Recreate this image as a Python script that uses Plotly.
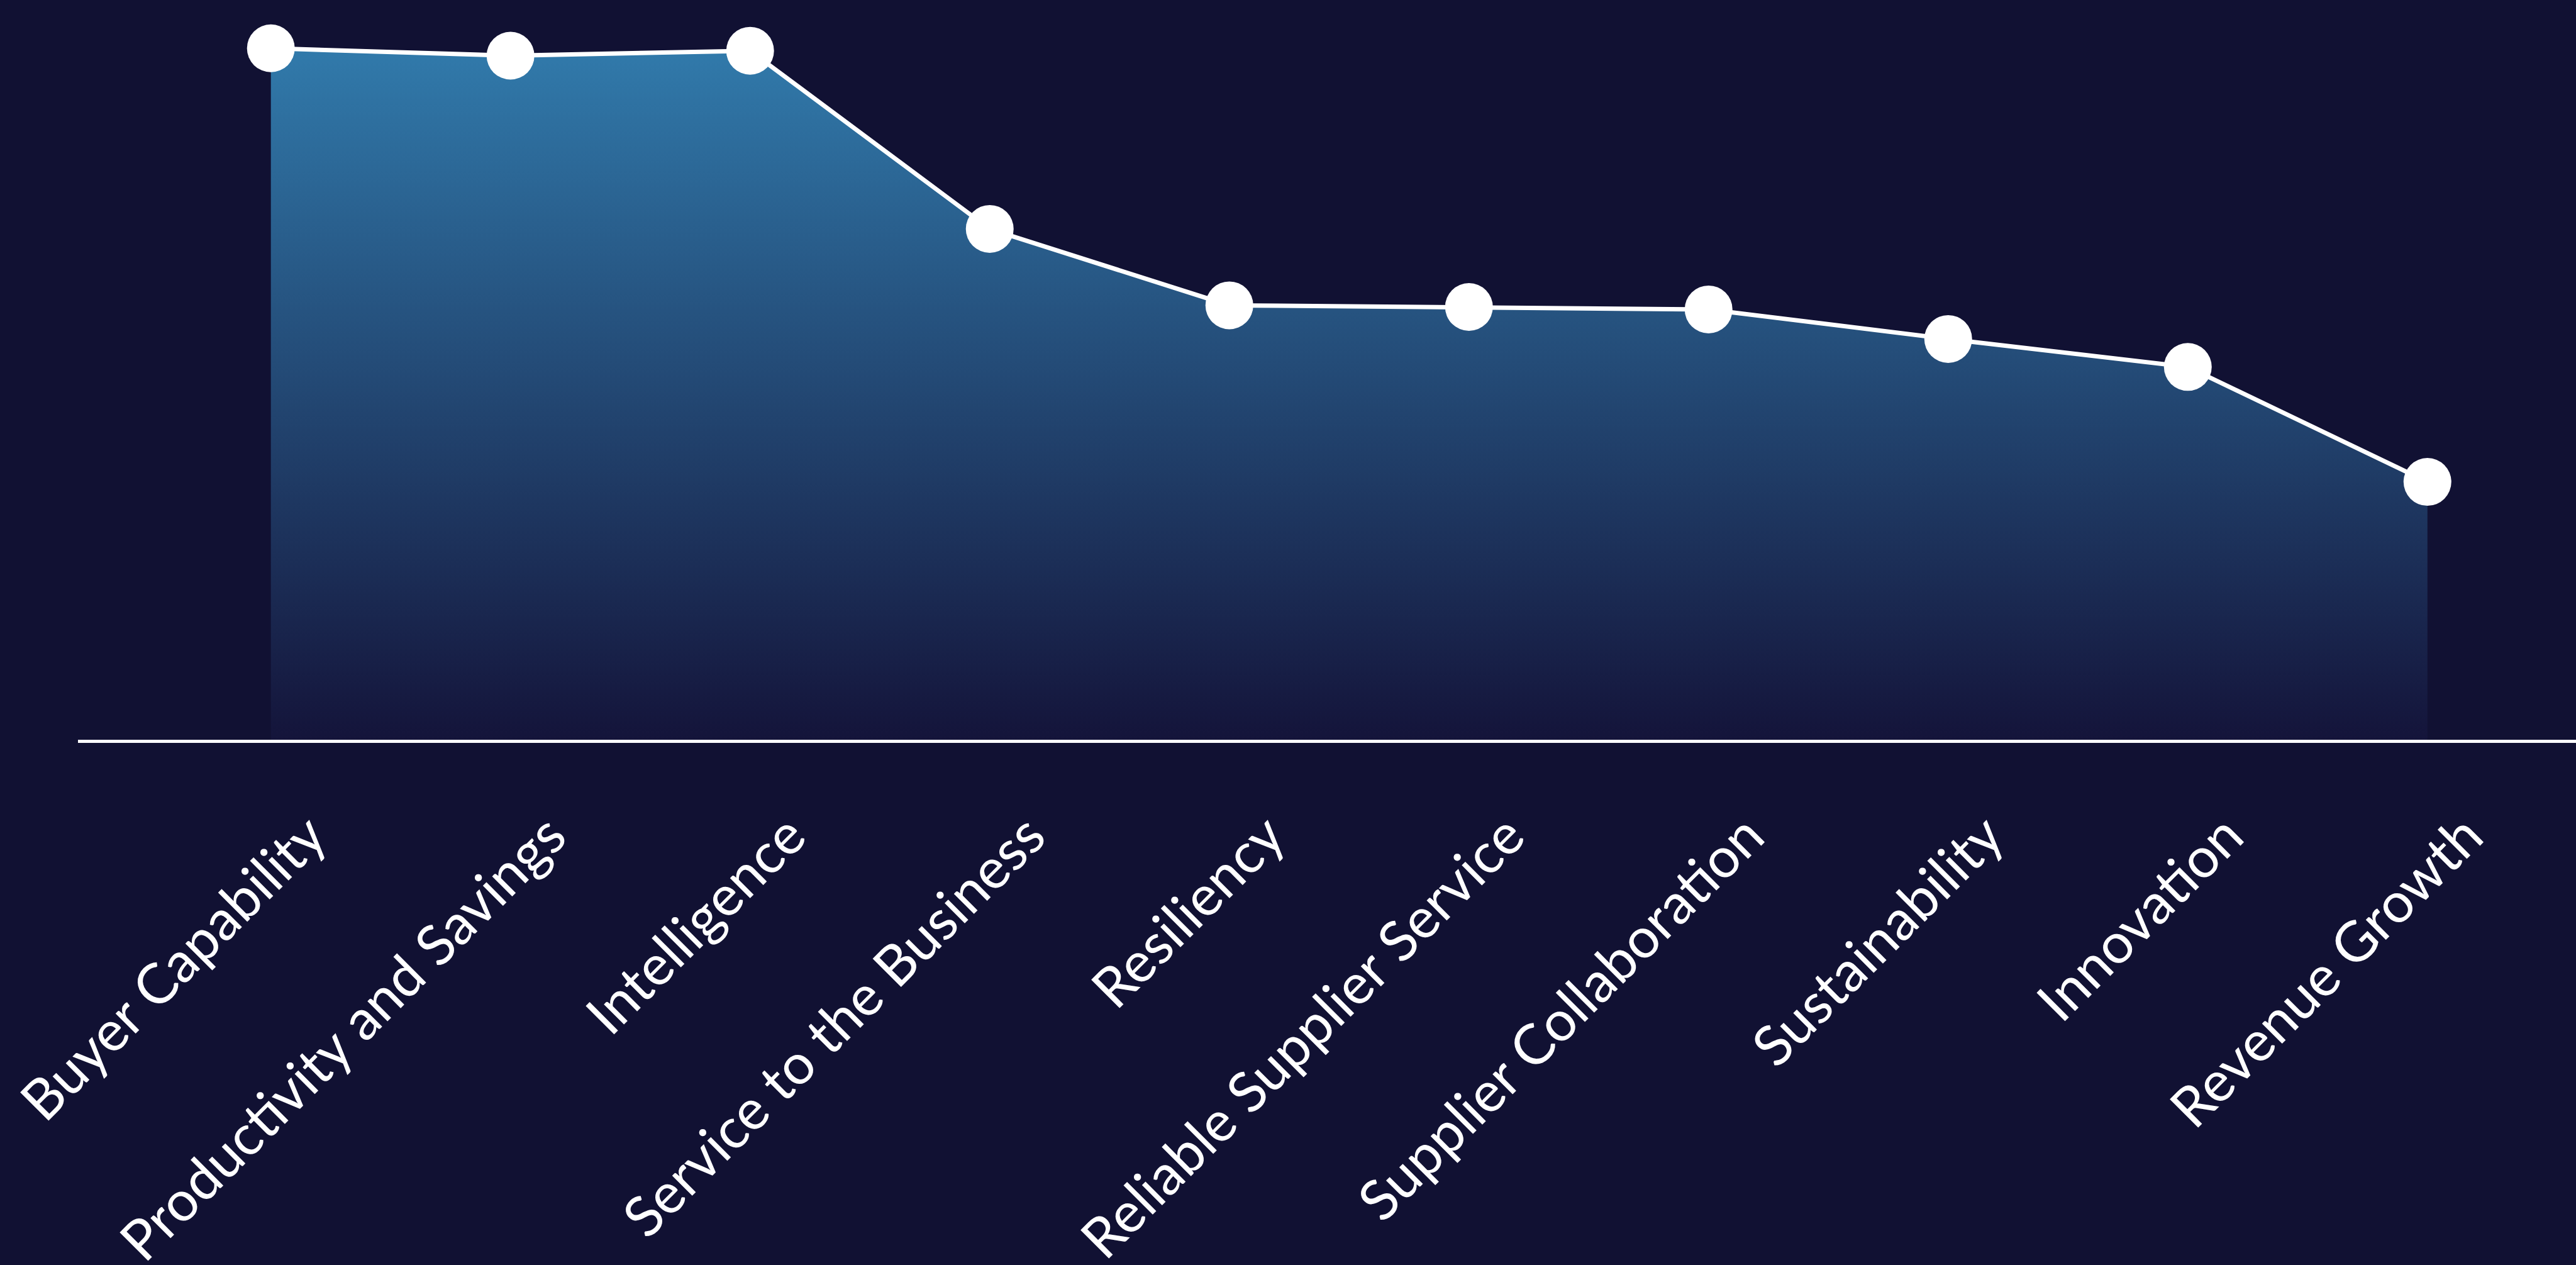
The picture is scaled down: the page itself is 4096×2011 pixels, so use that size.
import plotly.graph_objects as go

# Category labels and scores
categories = [
    "Buyer Capability",
    "Productivity and Savings",
    "Intelligence",
    "Service to the Business",
    "Resiliency",
    "Reliable Supplier Service",
    "Supplier Collaboration",
    "Sustainability",
    "Innovation",
    "Revenue Growth",
]
scores = [84.2, 83.3, 83.9, 62.2, 52.9, 52.7, 52.4, 48.8, 45.4, 31.4]

BG = "#111133"
FILL_TOP = "#317aab"
FILL_BOTTOM = "#14143a"

W, H = 4096, 2011

fig = go.Figure()
fig.add_trace(
    go.Scatter(
        x=categories,
        y=scores,
        mode="lines+markers",
        line=dict(color="white", width=7),
        marker=dict(color="white", size=76, line=dict(width=0)),
        fill="tozeroy",
        fillgradient=dict(
            type="vertical",
            colorscale=[[0, FILL_BOTTOM], [1, FILL_TOP]],
            start=0,
            stop=max(scores),
        ),
        cliponaxis=False,
        hoverinfo="skip",
        showlegend=False,
    )
)

fig.update_layout(
    width=W,
    height=H,
    paper_bgcolor=BG,
    plot_bgcolor=BG,
    margin=dict(l=124, r=0, t=0, b=835),
    font=dict(family="Lato", color="white"),
    showlegend=False,
)

fig.update_xaxes(
    type="category",
    range=[-0.805, 9.62],
    showgrid=False,
    zeroline=False,
    showline=True,
    linecolor="white",
    linewidth=4.5,
    ticks="",
    tickangle=-45,
    tickfont=dict(family="Lato", size=89, color="white"),
    ticklabelstandoff=60,
    ticklabelshift=62,
    automargin=False,
)
fig.update_yaxes(
    range=[0, 90.08],
    visible=False,
    showgrid=False,
    zeroline=False,
    automargin=False,
)

fig.write_html("out.html")
